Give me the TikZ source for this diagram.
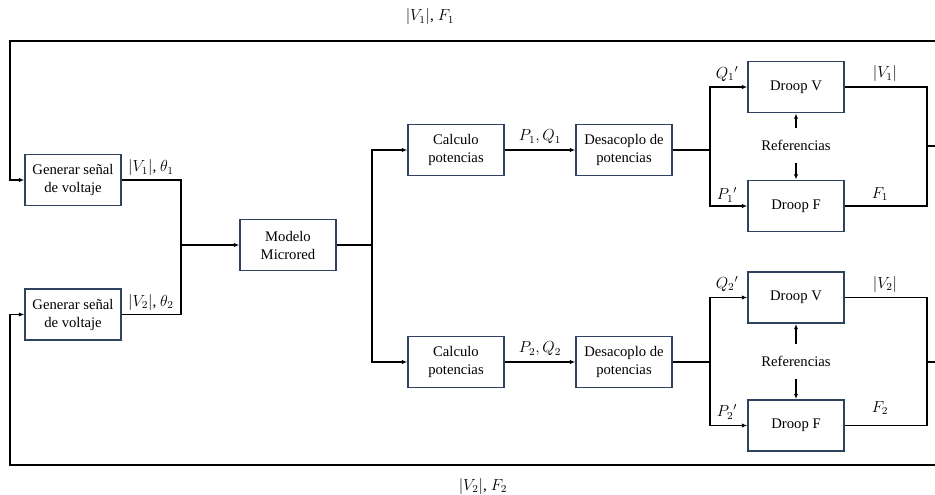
\documentclass[tikz,border=0pt]{standalone}
\usepackage{fontspec}
\setmainfont{Liberation Serif}
\usepackage{tikz}
\usetikzlibrary{arrows.meta}
\definecolor{borde}{RGB}{47,66,96}
\tikzset{
	bloque/.style={draw=borde, line width=1.1pt, minimum width=72pt, minimum height=38.5pt, align=center, inner sep=2pt, font=\fontsize{11}{13.5}\selectfont},
	flecha/.style={-{Latex[length=4pt,width=3.2pt]}},
	etiqueta/.style={font=\fontsize{11.5}{13}\selectfont, inner sep=1pt},
	refer/.style={font=\fontsize{11}{13}\selectfont, inner xsep=1pt, inner ysep=9pt}
}
\begin{document}
\begin{tikzpicture}[x=0.75pt, y=-0.75pt, line width=1pt]
			%%%%% START %%%%%
			\useasboundingbox (0,0) rectangle (935,495);
			
			\node[bloque] (gen1) at (73, 180) {Generar señal\\de voltaje};
			\node[bloque] (gen2) at (73, 314.5) {Generar señal\\de voltaje};
			\node[bloque] (modelo) at (288, 245) {Modelo\\Microred};
			
			\node[bloque] (calc1) at (456, 150) {Calculo\\potencias};
			\node[bloque] (calc2) at (456, 362) {Calculo\\potencias};
			\node[bloque] (desa1) at (624, 150) {Desacoplo de\\potencias};
			\node[bloque] (desa2) at (624, 362) {Desacoplo de\\potencias};
			
			\node[bloque] (dv1) at (796, 87) {Droop V};
			\node[bloque] (df1) at (796, 206) {Droop F};
			\node[bloque] (dv2) at (796, 297.5) {Droop V};
			\node[bloque] (df2) at (796, 425.5) {Droop F};
			
			\node[refer] (ref1) at (796, 145.5) {Referencias};
			\node[refer] (ref2) at (796, 361.5) {Referencias};
			
			\coordinate (sup) at (10, 41);
			\coordinate (supR) at (935, 41);
			\coordinate (inf) at (10, 465);
			\coordinate (infR) at (935, 465);
			\coordinate (ja) at (181, 245);
			\coordinate (jb) at (372, 245);
			\coordinate (jc) at (710, 150);
			\coordinate (jd) at (710, 362);
			\coordinate (je) at (927, 146);
			\coordinate (jf) at (927, 362);
			\coordinate (se) at (935, 146);
			\coordinate (sf) at (935, 362);
			
			% lazos de realimentacion
			\draw[flecha] (supR) -- (sup) |- (gen1.west);
			\draw[flecha] (infR) -- (inf) |- (gen2.west);
			
			\draw (gen1.east) -| (ja);
			\draw (gen2.east) -| (ja);
			\draw[flecha] (ja) -- (modelo.west);
			
			\draw (modelo.east) -- (jb);
			\draw[flecha] (jb) |- (calc1.west);
			\draw[flecha] (jb) |- (calc2.west);
			\draw[flecha] (calc1) -- (desa1);
			\draw[flecha] (calc2) -- (desa2);
			
			\draw (desa1.east) -- (jc);
			\draw[flecha] (jc) |- (dv1.west);
			\draw[flecha] (jc) |- (df1.west);
			\draw (desa2.east) -- (jd);
			\draw[flecha] (jd) |- (dv2.west);
			\draw[flecha] (jd) |- (df2.west);
			
			\draw[flecha] (ref1) -- (dv1);
			\draw[flecha] (ref1) -- (df1);
			\draw[flecha] (ref2) -- (dv2);
			\draw[flecha] (ref2) -- (df2);
			
			\draw (dv1.east) -| (je);
			\draw (df1.east) -| (je);
			\draw (je) -- (se);
			\draw (dv2.east) -| (jf);
			\draw (df2.east) -| (jf);
			\draw (jf) -- (sf);
			
			% etiquetas
			\node[etiqueta] at (430, 17) {$|V_1|$, $F_1$};
			\node[etiqueta] at (483, 486) {$|V_2|$, $F_2$};
			\node[etiqueta] at (151, 168) {$|V_1|$, $\theta_1$};
			\node[etiqueta] at (151, 302) {$|V_2|$, $\theta_2$};
			\node[etiqueta] at (540, 137) {$P_1, Q_1$};
			\node[etiqueta] at (540, 349) {$P_2, Q_2$};
			\node[etiqueta] at (727, 74) {$Q_1{}'$};
			\node[etiqueta] at (727, 195) {$P_1{}'$};
			\node[etiqueta] at (727, 284) {$Q_2{}'$};
			\node[etiqueta] at (727, 412) {$P_2{}'$};
			\node[etiqueta] at (885, 74) {$|V_1|$};
			\node[etiqueta] at (880, 194) {$F_1$};
			\node[etiqueta] at (885, 284) {$|V_2|$};
			\node[etiqueta] at (880, 408) {$F_2$};
			
			%%%%% END %%%%%
\end{tikzpicture}
\end{document}
